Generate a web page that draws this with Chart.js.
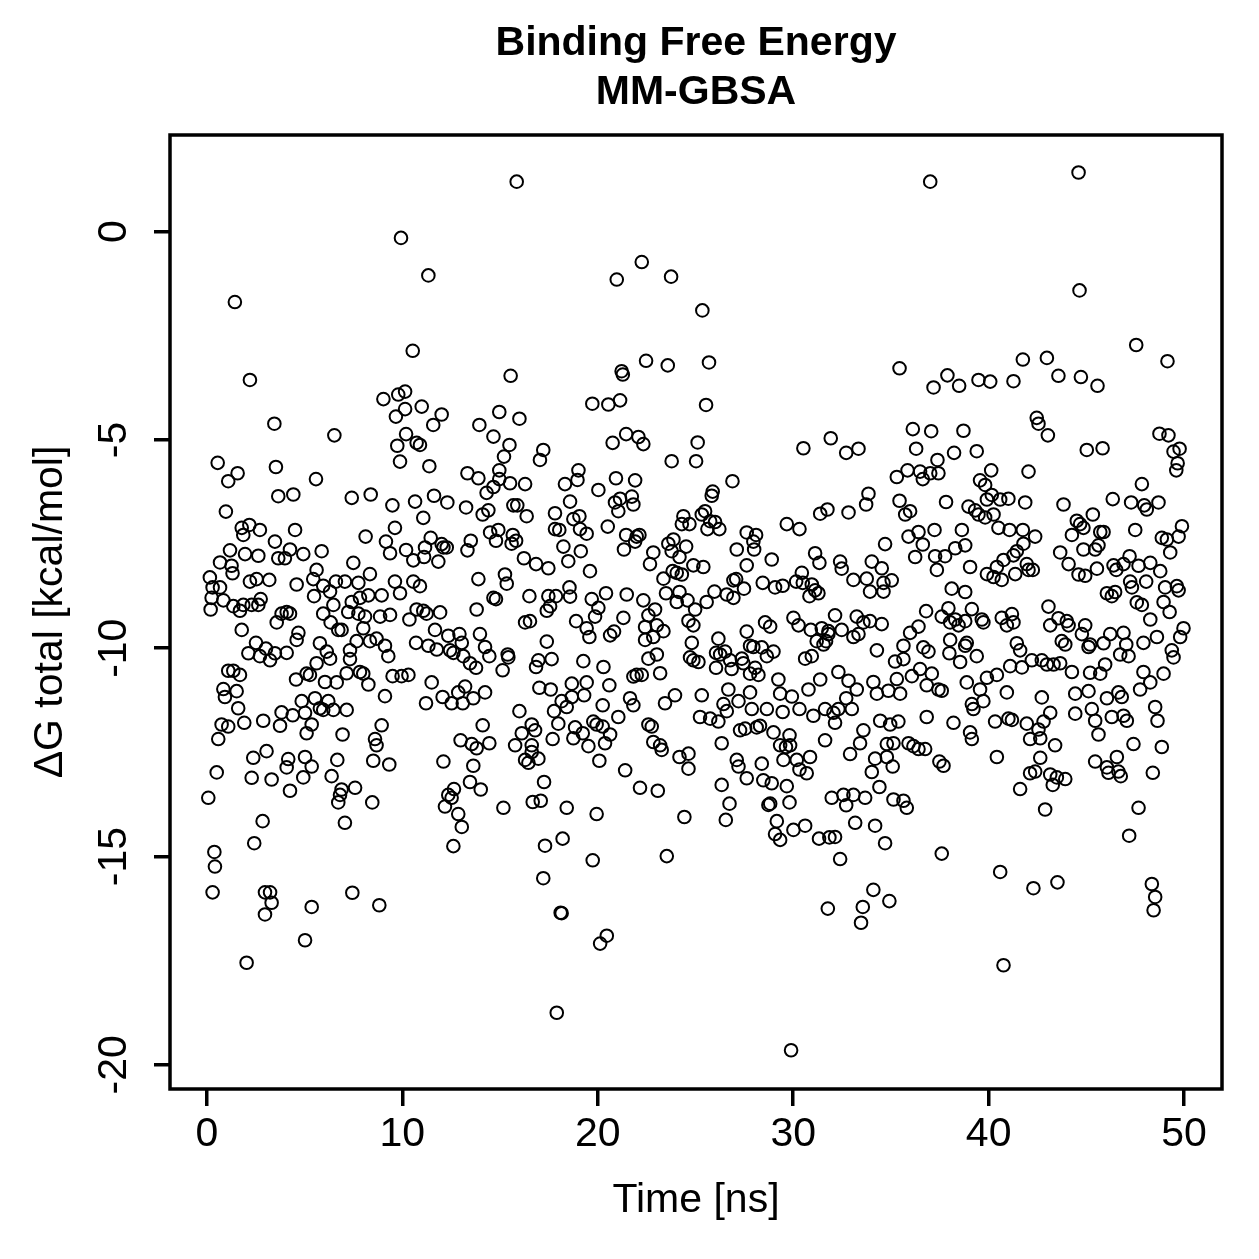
<!DOCTYPE html>
<html>
<head>
<meta charset="utf-8">
<script src="https://cdn.jsdelivr.net/npm/chart.js@4.4.1/dist/chart.umd.min.js"></script>
<style>
  html, body { margin: 0; padding: 0; background: #fff; }
  #energyChart { display: block; }
</style>
</head>
<body>
<canvas id="energyChart" width="1259" height="1259"></canvas>
<script>
// values, 0-50 ns
const timeNs = [
  1.43,2.20,3.45,0.55,1.09,1.57,3.53,3.65,4.42,0.97,
  1.78,2.17,2.71,4.51,1.86,3.48,1.18,1.95,2.63,3.65,
  3.99,4.25,0.67,1.26,1.31,0.15,2.20,2.54,3.19,4.59,
  0.29,0.67,0.24,0.84,1.35,1.86,2.29,2.63,1.69,0.19,
  2.75,3.82,4.08,4.25,3.57,1.78,4.68,4.59,2.51,2.12,
  3.02,2.71,3.23,3.48,4.08,1.09,1.35,1.69,4.56,0.84,
  1.52,0.92,1.60,3.82,4.39,0.75,1.09,1.91,2.88,3.74,
  0.58,3.05,2.37,4.16,0.50,2.29,3.31,4.25,4.08,0.07,
  2.85,2.42,0.38,0.41,0.29,2.97,3.23,3.31,2.97,2.03,

  9.93,9.03,9.79,10.14,9.67,10.14,6.52,10.19,9.74,9.88,
  5.58,7.41,8.38,9.49,9.62,8.12,9.16,9.37,5.87,4.93,
  10.19,7.49,5.61,5.44,5.95,6.30,6.60,7.06,7.75,8.34,
  8.94,9.62,9.88,5.48,7.41,7.83,8.26,6.47,7.23,5.95,
  7.75,8.09,8.86,9.37,10.36,6.72,6.89,8.00,6.33,7.66,
  5.78,8.34,8.68,9.11,9.28,6.13,6.30,7.32,7.32,5.61,
  7.15,7.83,8.00,9.50,9.96,10.31,5.10,5.27,6.64,6.04,
  8.26,9.11,4.85,5.53,6.21,5.78,5.95,6.47,7.15,5.02,
  5.36,8.94,5.10,6.94,8.60,8.68,8.51,9.33,5.02,5.36,
  6.67,4.93,6.38,6.89,7.58,6.81,6.72,8.46,7.06,7.44,
  5.36,8.82,5.02,

  15.85,11.33,10.53,15.54,10.99,12.01,11.58,13.94,14.96,15.99,
  14.66,10.73,10.90,15.48,15.20,11.38,13.33,13.89,14.96,14.96,
  14.66,15.51,14.31,10.65,11.62,12.30,13.26,14.40,14.11,15.68,
  15.88,11.07,11.45,12.01,12.10,11.16,10.56,11.11,11.84,
  12.27,13.33,13.50,14.49,14.91,14.79,15.59,15.82,15.65,13.89,
  15.25,15.34,10.56,10.90,14.66,14.79,10.73,11.07,11.24,11.93,
  13.80,11.67,12.35,12.92,13.97,10.70,11.33,11.76,12.44,
  12.61,13.04,13.12,13.46,13.77,14.23,14.45,15.39,15.42,15.13,
  11.50,11.21,12.06,12.52,12.86,13.21,13.09,13.63,14.23,
  14.11,12.98,13.55,13.80,14.45,15.99,15.77,12.10,13.63,13.46,
  14.01,12.64,12.35,12.52,12.18,12.86,13.04,12.61,15.17,

  20.97,21.22,21.28,19.72,20.54,21.14,20.76,21.45,17.21,17.04,
  19.01,18.96,18.32,16.28,20.03,20.93,18.58,16.36,17.81,17.81,
  18.03,18.75,19.06,19.09,19.43,20.51,20.88,21.14,21.05,21.45,
  21.34,18.24,18.49,19.13,16.22,16.84,17.47,19.60,16.50,17.47,
  17.86,18.55,18.58,19.69,20.03,20.42,21.48,19.86,18.89,19.43,
  19.57,20.63,20.83,21.31,17.39,17.56,16.28,16.53,17.39,16.96,
  16.84,17.64,19.26,20.29,17.01,17.59,18.67,19.43,20.59,18.15,
  18.41,18.67,19.30,17.76,20.25,21.05,19.77,19.94,20.25,16.62,
  16.11,16.79,17.98,18.84,19.23,20.63,17.69,18.75,19.52,20.37,
  16.62,16.62,16.28,16.96,16.45,20.08,21.40,17.25,16.67,17.08,
  18.41,19.94,17.30,18.20,19.74,17.21,18.10,18.15,20.12,20.46,
  17.90,

  22.25,23.75,25.35,22.47,23.58,25.69,25.54,22.08,22.33,
  25.11,23.78,25.03,21.91,26.89,21.74,21.82,25.88,25.83,24.38,
  24.30,24.69,25.32,25.49,25.75,25.61,26.22,26.00,21.99,22.13,
  21.91,23.61,23.87,23.78,24.52,22.84,22.67,24.18,24.04,
  24.30,23.83,24.89,25.40,27.11,23.36,26.94,27.08,26.60,26.94,
  23.49,24.18,24.04,24.59,24.98,25.57,25.97,22.33,22.59,
  22.93,22.42,23.02,23.36,24.64,24.89,22.42,22.84,24.81,26.17,
  26.05,26.26,26.51,23.02,22.59,24.89,25.15,24.72,26.77,26.85,
  26.05,21.99,21.82,22.25,23.19,26.68,25.32,23.95,23.44,26.43,
  26.60,27.20,21.65,21.82,25.23,25.75,26.17,22.59,22.76,26.34,
  22.84,23.19,23.27,24.18,24.64,24.64,27.11,27.20,22.16,23.07,
  26.34,26.74,26.55,24.43,23.53,

  30.52,31.92,32.71,29.67,30.32,31.38,31.75,32.83,27.62,28.10,
  27.96,28.00,28.90,27.62,27.48,28.44,30.44,30.49,31.12,31.34,
  29.07,29.46,30.15,30.83,31.12,31.29,30.95,32.40,32.48,27.62,
  28.56,28.82,30.01,30.27,30.90,31.46,31.80,32.14,32.48,27.79,
  27.96,28.39,28.99,28.65,31.20,31.68,31.80,31.55,30.61,30.95,
  27.45,27.37,28.05,28.22,27.79,29.24,29.33,29.93,30.78,31.38,
  32.31,32.83,27.79,27.88,28.65,29.46,30.32,31.03,31.63,32.06,
  32.31,32.71,32.14,27.28,27.54,28.13,28.30,28.99,29.81,29.84,
  29.63,29.33,31.63,30.86,29.50,30.18,30.32,30.69,28.39,27.62,
  28.47,28.90,29.67,28.73,28.82,29.81,31.97,32.57,32.71,29.16,
  29.07,29.33,30.01,30.61,31.32,31.85,32.14,32.40,31.77,29.89,

  37.01,35.44,37.18,37.89,38.49,36.12,37.06,36.29,38.23,33.34,
  35.30,35.85,36.49,36.63,37.01,37.43,37.38,33.85,33.73,35.44,
  35.73,35.98,37.82,34.70,35.90,36.41,36.63,37.23,36.24,37.26,
  37.77,37.35,38.29,34.02,34.53,33.08,33.76,34.62,35.04,33.93,
  34.62,38.11,33.25,33.59,33.93,34.53,33.08,33.34,34.28,36.80,
  36.41,35.98,37.60,37.94,38.03,38.29,38.46,35.64,35.21,35.64,
  36.66,36.92,38.03,37.99,33.25,33.00,34.10,34.28,34.87,35.47,
  35.30,36.07,36.49,37.09,36.83,37.43,37.60,36.83,34.45,34.96,
  35.38,38.20,33.59,33.42,34.79,35.13,35.90,36.15,36.41,36.75,
  37.48,37.69,32.91,34.19,34.79,35.09,34.02,33.08,33.68,34.41,
  35.13,35.64,35.81,33.17,34.19,34.70,37.60,34.10,34.92,33.56,
  33.47,

  41.75,42.98,43.57,39.48,40.08,41.27,42.46,42.55,43.03,38.71,
  39.39,40.13,42.04,39.56,39.82,39.91,40.16,40.59,41.01,38.97,
  39.31,39.48,39.82,40.25,41.87,43.83,40.50,41.07,41.75,42.38,
  38.63,38.80,41.78,41.44,41.27,40.76,40.42,39.91,40.25,40.67,
  41.36,41.95,42.04,42.26,43.66,44.09,39.05,38.80,39.14,39.65,
  39.73,38.80,40.67,41.19,40.93,41.27,43.06,43.15,43.57,44.00,
  44.09,38.88,38.80,39.39,41.44,41.61,43.74,43.92,38.54,38.88,
  39.91,40.42,41.10,41.70,42.21,42.72,42.98,43.32,43.66,39.56,
  39.73,39.14,39.22,40.93,42.72,39.05,39.14,40.33,41.01,41.19,
  41.95,42.55,42.64,42.12,43.15,42.81,43.40,40.42,42.64,42.12,
  42.38,41.61,43.15,43.49,43.28,43.92,42.89,40.59,42.29,43.52,
  40.76,

  44.60,44.65,47.55,49.15,44.72,45.57,48.74,49.20,49.46,49.77,
  49.67,49.60,45.02,45.83,47.84,46.35,47.29,47.96,48.09,48.69,
  44.51,44.68,44.85,44.26,45.33,45.71,45.88,47.50,48.86,49.12,
  49.29,49.89,49.72,44.85,45.45,45.62,44.60,44.94,45.54,46.39,
  46.53,46.90,47.21,47.67,48.27,48.78,47.24,47.33,48.06,46.05,
  46.30,46.47,47.58,47.84,49.03,49.63,49.72,48.95,49.26,48.27,
  44.94,44.77,45.19,45.11,45.88,46.22,46.90,47.04,46.73,47.16,
  47.92,48.61,49.97,49.80,49.37,49.46,44.26,45.19,45.71,45.96,
  47.92,48.27,47.75,48.95,44.43,45.11,46.05,46.64,46.81,45.28,
  45.45,45.62,44.43,46.30,46.90,47.07,48.52,48.64,47.41,48.86,
  45.45,46.05,46.56,46.13,46.64,46.76,48.40,47.67,47.19,48.35,
  48.52,48.44
];

const deltaG = [
  -1.69,-3.56,-4.61,-5.55,-5.99,-5.80,-5.65,-6.35,-6.31,-6.72,
  -7.11,-7.04,-7.16,-7.16,-7.28,-7.44,-7.65,-7.74,-7.78,-7.84,
  -7.84,-7.63,-7.94,-8.02,-8.20,-8.30,-8.40,-8.34,-8.36,-8.47,
  -8.54,-8.54,-8.79,-8.85,-8.99,-8.96,-8.96,-8.96,-9.10,-9.07,
  -8.82,-9.17,-9.13,-9.17,-9.38,-9.56,-9.63,-9.80,-9.87,-10.12,
  -10.01,-10.19,-10.29,-10.12,-10.11,-10.54,-10.54,-10.64,-10.75,-10.98,
  -11.03,-11.17,-11.44,-11.54,-11.61,-11.83,-11.88,-11.79,-11.74,-11.86,
  -12.18,-12.47,-12.63,-12.66,-12.98,-13.11,-13.15,-13.42,-12.86,-13.59,
  -14.15,-14.68,-14.89,-15.24,-15.86,-15.86,-15.86,-16.11,-16.39,-17.55,

  -0.15,-4.02,-3.91,-3.84,-4.44,-4.26,-4.89,-4.86,-5.14,-5.52,
  -5.94,-6.39,-6.31,-6.57,-7.11,-7.32,-7.44,-7.72,-7.67,-7.74,
  -7.64,-7.95,-8.12,-8.34,-8.50,-8.64,-8.40,-8.40,-8.43,-8.22,
  -8.73,-8.40,-8.68,-8.75,-8.89,-8.79,-8.73,-8.96,-9.13,-9.17,
  -9.17,-9.24,-9.24,-9.20,-9.31,-9.56,-9.56,-9.52,-9.38,-9.83,
  -9.88,-9.83,-9.77,-9.94,-10.19,-10.08,-10.25,-10.05,-10.26,-10.36,
  -10.60,-10.57,-10.61,-10.67,-10.67,-10.64,-10.61,-10.64,-10.82,-10.81,
  -10.87,-11.15,-11.27,-11.20,-11.27,-11.44,-11.48,-11.48,-11.48,-11.55,
  -11.83,-11.85,-12.04,-12.07,-12.18,-12.33,-12.70,-12.79,-12.61,-12.84,
  -12.68,-13.10,-13.07,-13.39,-13.35,-13.52,-13.70,-13.70,-14.19,-15.87,
  -16.21,-16.17,-17.01,

  1.20,-1.05,-2.86,-3.46,-4.20,-4.39,-4.64,-4.64,-4.33,-4.49,
  -4.92,-5.07,-5.12,-5.12,-5.40,-5.63,-5.80,-5.92,-5.73,-5.94,
  -6.13,-6.04,-6.27,-6.48,-6.34,-6.50,-6.62,-6.69,-6.79,-6.57,
  -6.57,-6.87,-7.35,-7.50,-7.58,-7.58,-7.89,-7.81,-7.92,
  -7.58,-7.65,-7.42,-7.22,-7.16,-7.42,-7.49,-7.42,-7.28,-8.34,
  -8.23,-8.45,-8.40,-8.51,-8.79,-8.82,-9.07,-9.10,-9.17,-9.14,
  -9.07,-9.56,-9.70,-9.66,-9.66,-9.87,-9.94,-10.03,-10.05,
  -10.11,-9.87,-10.19,-10.36,-10.47,-9.97,-10.19,-10.15,-10.22,-10.53,
  -10.82,-11.32,-11.17,-11.32,-11.06,-10.92,-11.32,-11.20,-11.06,
  -11.85,-12.21,-12.30,-12.40,-12.28,-11.51,-12.33,-12.72,-12.82,-13.21,
  -13.39,-13.38,-13.52,-13.59,-13.80,-13.98,-14.29,-14.75,-13.83,

  -1.15,-3.35,-3.43,-4.13,-4.15,-4.05,-5.07,-4.86,-5.24,-5.48,
  -5.73,-5.96,-6.06,-6.06,-6.20,-5.92,-6.48,-6.83,-6.76,-7.14,
  -7.16,-6.90,-6.83,-7.14,-7.25,-7.08,-6.50,-6.41,-6.71,-7.28,
  -7.63,-7.56,-7.91,-7.67,-7.84,-7.98,-8.08,-8.15,-8.75,-8.75,
  -8.75,-8.54,-8.76,-8.82,-9.03,-8.68,-8.71,-9.24,-9.35,-9.52,
  -9.73,-9.69,-9.60,-9.27,-9.10,-8.99,-9.38,-9.35,-9.84,-10.29,
  -10.45,-10.26,-10.31,-10.45,-10.95,-10.99,-10.85,-10.82,-10.89,-11.27,
  -11.41,-11.17,-11.13,-11.51,-11.37,-11.65,-11.76,-11.83,-11.88,-11.83,
  -12.04,-11.97,-11.81,-11.90,-12.04,-12.07,-12.18,-12.16,-12.35,-12.28,
  -12.33,-12.49,-12.68,-12.65,-12.75,-12.70,-12.93,-13.21,-13.69,-13.66,
  -13.83,-13.98,-14.74,-14.57,-15.09,-15.52,-16.35,-16.36,-17.09,-16.90,
  -18.75,

  -0.73,-1.08,-1.89,-3.10,-3.21,-3.14,-4.16,-4.93,-5.10,
  -5.06,-5.51,-5.51,-5.97,-5.99,-6.36,-6.55,-6.24,-6.34,-6.83,
  -7.02,-7.02,-6.79,-6.71,-6.95,-7.14,-7.14,-6.97,-7.32,-7.28,
  -7.44,-7.49,-7.39,-7.67,-7.56,-7.70,-7.98,-7.81,-8.19,
  -8.23,-8.15,-8.01,-8.05,-7.63,-8.33,-8.37,-8.34,-8.71,-8.79,
  -8.68,-8.65,-8.89,-8.85,-9.07,-8.89,-8.64,-8.85,-9.21,
  -9.07,-9.49,-9.45,-9.59,-9.34,-9.45,-9.80,-9.73,-9.87,-9.77,
  -10.11,-10.15,-10.08,-10.15,-10.25,-10.29,-10.33,-10.22,-10.29,-10.50,
  -10.47,-10.64,-10.68,-10.64,-10.60,-10.99,-11.13,-11.13,-11.32,-11.34,
  -11.51,-11.27,-11.20,-11.37,-11.65,-11.69,-11.76,-11.83,-11.88,-12.28,
  -12.25,-12.33,-12.44,-12.61,-12.53,-12.89,-12.68,-12.84,-13.35,-13.42,
  -13.28,-13.73,-14.12,-14.05,-14.99,

  -5.20,-4.96,-5.31,-7.02,-7.14,-6.77,-6.67,-6.74,-7.22,-7.28,
  -7.44,-7.63,-7.87,-8.01,-8.57,-8.43,-8.19,-8.43,-7.72,-7.95,
  -8.54,-8.50,-8.40,-8.75,-8.61,-8.68,-8.47,-7.92,-8.09,-9.60,
  -9.38,-9.48,-9.27,-9.45,-9.56,-9.52,-9.59,-9.21,-9.56,-9.94,
  -9.97,-9.98,-10.08,-10.19,-9.83,-9.83,-9.66,-9.91,-10.25,-10.19,
  -10.36,-10.25,-10.47,-10.64,-10.61,-10.75,-11.09,-11.16,-10.99,-10.75,
  -10.57,-10.78,-11.06,-11.46,-11.46,-11.53,-11.46,-11.62,-11.46,-11.55,
  -11.46,-11.20,-11.79,-11.97,-11.93,-11.90,-11.86,-12.02,-12.09,-12.33,
  -12.37,-12.33,-12.21,-12.61,-12.68,-12.68,-12.91,-13.00,-12.77,-13.12,
  -13.17,-13.24,-13.31,-13.76,-13.73,-13.70,-13.59,-13.52,-13.77,-14.15,
  -14.46,-14.60,-14.36,-14.26,-14.57,-14.54,-14.53,-15.06,-16.25,-19.65,

  1.20,-3.28,-3.74,-3.45,-3.70,-4.74,-4.79,-5.21,-5.31,-5.21,
  -5.89,-5.73,-5.76,-5.94,-5.80,-5.80,-5.48,-6.29,-6.55,-6.46,
  -6.79,-6.71,-6.49,-7.50,-7.32,-7.21,-7.51,-7.16,-7.81,-7.79,
  -7.79,-8.12,-7.60,-7.92,-8.08,-8.36,-8.33,-8.43,-8.37,-8.64,
  -8.64,-8.57,-9.24,-9.38,-9.35,-9.42,-9.73,-9.66,-10.05,-9.11,
  -9.48,-9.63,-9.24,-9.04,-9.38,-9.31,-9.45,-9.94,-10.32,-10.26,
  -9.98,-10.08,-9.80,-10.12,-10.99,-11.46,-10.81,-11.09,-11.02,-11.09,
  -10.74,-10.67,-10.50,-10.61,-10.89,-10.99,-11.02,-11.65,-11.74,-11.83,
  -11.76,-11.79,-11.97,-12.28,-12.30,-12.28,-12.28,-12.35,-12.42,-12.42,
  -12.72,-12.82,-12.54,-12.65,-12.61,-12.84,-12.97,-13.52,-13.59,-13.33,
  -13.63,-13.66,-13.83,-14.19,-14.26,-14.68,-14.93,-15.80,-16.07,-16.21,
  -16.59,

  -3.07,-3.03,-3.46,-3.56,-3.60,-3.59,-4.47,-4.61,-4.89,-4.78,
  -5.27,-5.73,-5.76,-5.97,-6.08,-6.43,-6.32,-6.43,-6.41,-6.60,
  -6.69,-6.79,-6.86,-6.79,-6.50,-6.55,-7.11,-7.16,-7.16,-7.32,
  -7.16,-7.53,-7.49,-7.67,-7.77,-7.88,-8.05,-8.22,-8.29,-8.36,
  -8.22,-7.98,-8.12,-8.12,-7.70,-7.98,-8.05,-8.65,-9.06,-9.31,
  -9.38,-9.35,-9.27,-9.18,-9.45,-9.38,-9.00,-9.45,-9.28,-9.35,
  -9.45,-9.87,-9.94,-10.19,-9.88,-10.05,-9.83,-9.91,-10.33,-10.82,
  -10.71,-10.64,-10.43,-10.46,-10.29,-10.29,-10.39,-10.39,-10.36,-10.99,
  -11.27,-11.34,-11.46,-11.06,-11.18,-12.02,-12.18,-11.76,-11.69,-11.72,
  -11.81,-11.95,-12.16,-12.18,-11.55,-11.76,-12.33,-12.61,-12.63,-13.00,
  -12.96,-13.38,-13.03,-13.10,-13.28,-13.14,-13.87,-15.37,-15.76,-15.62,
  -17.61,

  1.42,-1.41,-2.72,-3.11,-3.49,-3.70,-4.85,-4.89,-5.28,-5.21,
  -5.56,-5.73,-5.24,-5.20,-6.06,-6.42,-6.50,-6.57,-6.67,-6.50,
  -6.94,-7.02,-7.11,-7.28,-6.79,-7.21,-7.21,-7.16,-7.35,-7.39,
  -7.70,-7.07,-7.32,-7.63,-7.63,-7.53,-8.23,-8.26,-8.09,-8.01,
  -8.12,-7.98,-7.79,-8.02,-7.95,-8.15,-8.40,-8.54,-8.40,-8.68,
  -8.75,-8.65,-8.90,-8.96,-8.54,-8.51,-8.61,-8.89,-9.13,-9.31,
  -9.45,-9.66,-9.91,-9.97,-9.88,-9.66,-9.63,-9.91,-10.15,-10.19,
  -9.87,-9.73,-9.52,-9.73,-10.05,-10.22,-10.57,-10.59,-10.61,-10.39,
  -10.57,-10.82,-10.99,-10.61,-11.09,-11.03,-11.20,-11.06,-11.17,-11.46,
  -11.74,-12.07,-11.57,-11.65,-11.62,-11.74,-11.41,-11.74,-12.30,-12.37,
  -12.72,-12.86,-12.61,-12.99,-12.96,-13.07,-12.99,-13.83,-14.50,-15.66,
  -15.97,-16.29
];

const xTicks = [0, 10, 20, 30, 40, 50];
const xTickLabels = ['0', '10', '20', '30', '40', '50'];
const yTicks = [0, -5, -10, -15, -20];
const yTickLabels = ['0', '-5', '-10', '-15', '-20'];
const chartTitle = ['Binding Free Energy', 'MM-GBSA'];
const xLabel = 'Time [ns]';
const yLabel = 'ΔG total [kcal/mol]';

if (timeNs.length !== deltaG.length) console.warn('length mismatch', timeNs.length, deltaG.length);
const points = timeNs.map((t, i) => ({ x: t, y: deltaG[i] }));

const FONT = "'Liberation Sans', Arial, Helvetica, sans-serif";

// R-style box round the plot region
const frameBox = {
  id: 'frameBox',
  afterDatasetsDraw(chart) {
    const { ctx, chartArea: a } = chart;
    ctx.save();
    ctx.strokeStyle = '#000';
    ctx.lineWidth = 3.5;
    ctx.strokeRect(a.left, a.top, a.right - a.left, a.bottom - a.top);
    ctx.restore();
  }
};

const tickGrid = (len) => ({
  drawOnChartArea: false,
  drawTicks: true,
  tickLength: len,
  tickWidth: 3.5,
  tickColor: '#000',
  lineWidth: 3.5,
  color: '#000'
});

new Chart(document.getElementById('energyChart'), {
  type: 'scatter',
  data: {
    datasets: [{
      data: points,
      pointStyle: 'circle',
      pointRadius: 6.3,
      pointHoverRadius: 6.3,
      borderWidth: 2,
      borderColor: '#000',
      backgroundColor: 'rgba(0,0,0,0)'
    }]
  },
  options: {
    responsive: false,
    animation: false,
    devicePixelRatio: 1,
    events: [],
    layout: { padding: { left: 0, right: 37, top: 0, bottom: 0 } },
    plugins: {
      legend: { display: false },
      tooltip: { enabled: false },
      title: {
        display: true,
        text: chartTitle,
        fullSize: false,
        color: '#000',
        font: { family: FONT, size: 41, weight: 'bold', lineHeight: '49px' },
        padding: { top: 19.5, bottom: 17.5 }
      }
    },
    scales: {
      x: {
        type: 'linear',
        position: 'bottom',
        bounds: 'data',
        min: -1.89,
        max: 51.94,
        afterBuildTicks: s => { s.ticks = xTicks.map(v => ({ value: v })); },
        afterFit: s => { s.height = 170; },
        grid: tickGrid(17),
        border: { display: false },
        ticks: {
          color: '#000',
          font: { family: FONT, size: 41 },
          padding: 4,
          maxRotation: 0,
          autoSkip: false,
          callback: (v, i) => xTickLabels[i]
        },
        title: {
          display: true,
          text: xLabel,
          color: '#000',
          font: { family: FONT, size: 41 },
          padding: { top: 0, bottom: 34 }
        }
      },
      y: {
        type: 'linear',
        position: 'left',
        bounds: 'data',
        min: -20.58,
        max: 2.32,
        afterBuildTicks: s => { s.ticks = yTicks.map(v => ({ value: v })); },
        afterFit: s => { s.width = 170; },
        grid: tickGrid(16),
        border: { display: false },
        ticks: {
          color: '#000',
          font: { family: FONT, size: 41 },
          padding: 10,
          minRotation: 90,
          maxRotation: 90,
          crossAlign: 'center',
          autoSkip: false,
          callback: (v, i) => yTickLabels[i]
        },
        title: {
          display: true,
          text: yLabel,
          color: '#000',
          font: { family: FONT, size: 41 },
          padding: { top: 26, bottom: 0 }
        }
      }
    }
  },
  plugins: [frameBox]
});
</script>
</body>
</html>
